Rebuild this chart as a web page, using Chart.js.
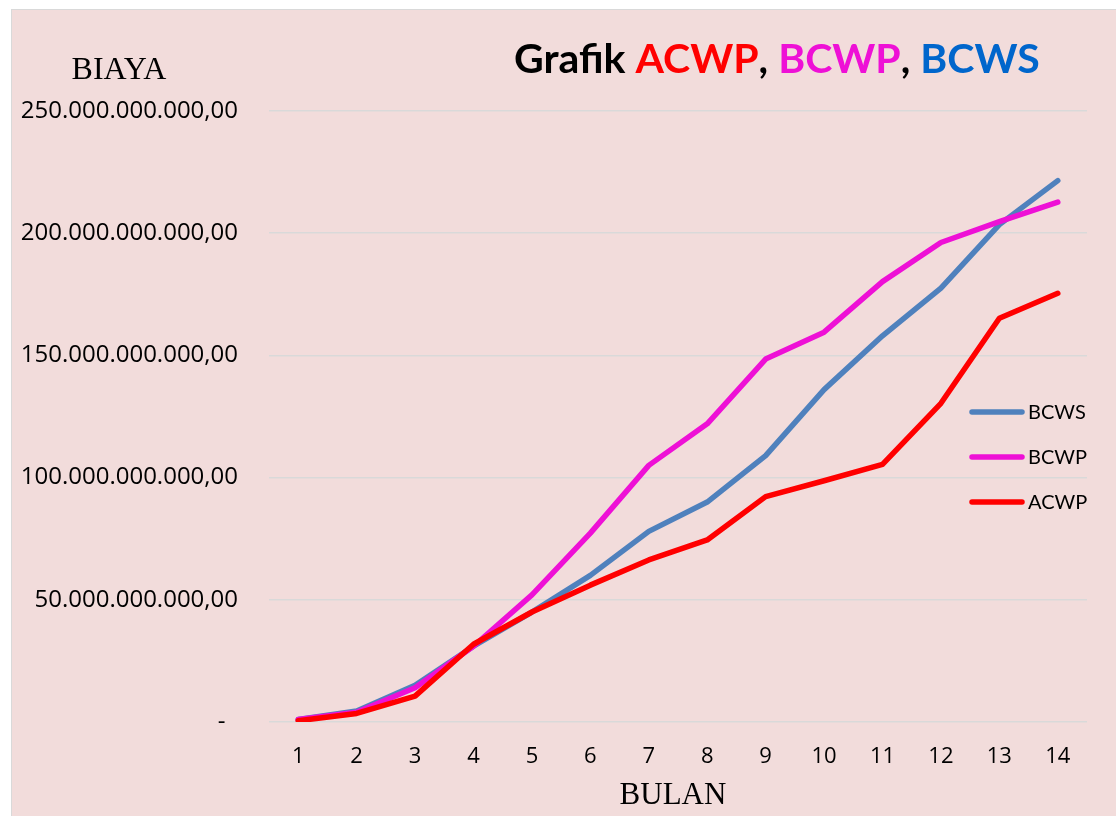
<!DOCTYPE html>
<html>
<head>
<title>Grafik ACWP, BCWP, BCWS</title>
<script src="https://cdn.jsdelivr.net/npm/chart.js"></script>
<style>
	html, body { margin: 0; padding: 0; background: #fff; overflow: hidden; }
	.frame {
		position: absolute; left: 11px; top: 9px; width: 1120px; height: 820px;
		background: #F2DCDB; border: 1px solid #D9D9D9;
	}
	.chart-container { position: absolute; left: 0; top: 0; width: 1116px; height: 816px; }
</style>
</head>
<body>
<div class="frame"></div>
<div class="chart-container"><canvas id="evmChart"></canvas></div>
<script>
// values in billions of rupiah (miliar)
const bulan = ["1", "2", "3", "4", "5", "6", "7", "8", "9", "10", "11", "12", "13", "14"];
const bcws = [1, 4.5, 15, 31, 45, 60, 78, 90, 109, 136, 158, 177.5, 203.5, 221.5];
const bcwp = [1, 4, 14, 31, 52, 77.3, 105, 122, 148.5, 159.5, 180.2, 196.2, 204.7, 212.7];
const acwp = [0.5, 3.5, 10.6, 31.8, 45, 56, 66.3, 74.5, 92.2, 98.7, 105.4, 130.4, 165.2, 175.4];

const colors = { BCWS: "#4F81BD", BCWP: "#EE10D6", ACWP: "#FF0000" };
const titleParts = [
	["Grafik ", "#000000"],
	["ACWP", "#FF0000"],
	[", ", "#000000"],
	["BCWP", "#EE10D6"],
	[", ", "#000000"],
	["BCWS", "#0066CC"],
];
const legendOrder = ["BCWS", "BCWP", "ACWP"];

function formatRupiah(miliar) {
	if (miliar === 0) return "-  ";
	const whole = String(Math.round(miliar * 1e9));
	return whole.replace(/\B(?=(\d{3})+(?!\d))/g, ".") + ",00";
}

function makeLine(label, data, order) {
	return {
		label: label,
		data: data,
		borderColor: colors[label],
		backgroundColor: colors[label],
		borderWidth: 5.5,
		borderCapStyle: "round",
		borderJoinStyle: "round",
		pointRadius: 0,
		tension: 0,
		fill: false,
		order: order,
	};
}

// title, axis names and legend drawn on top of the chart
const decorations = {
	id: "decorations",
	afterDraw(chart) {
		const ctx = chart.ctx;
		ctx.save();
		ctx.textBaseline = "alphabetic";
		ctx.font = "bold 41px Lato";
		let x = 514;
		titleParts.forEach(([text, color]) => {
			ctx.fillStyle = color;
			ctx.fillText(text, x, 73);
			x += ctx.measureText(text).width;
		});

		ctx.fillStyle = "#000";
		ctx.font = "32px 'Liberation Serif'";
		ctx.textAlign = "center";
		ctx.textBaseline = "middle";
		ctx.fillText("BIAYA", 119, 71);
		ctx.font = "31px 'Liberation Serif'";
		ctx.fillText("BULAN", 673, 796);

		ctx.textAlign = "left";
		ctx.font = "20px Lato";
		legendOrder.forEach((name, i) => {
			const y = 412 + 45 * i;
			ctx.strokeStyle = colors[name];
			ctx.lineWidth = 5.5;
			ctx.lineCap = "round";
			ctx.beginPath();
			ctx.moveTo(972, y);
			ctx.lineTo(1022, y);
			ctx.stroke();
			ctx.fillStyle = "#000";
			ctx.fillText(name, 1028, y + 1);
		});
		ctx.restore();
	},
};

const ctx = document.getElementById("evmChart").getContext("2d");
new Chart(ctx, {
	type: "line",
	data: {
		labels: bulan,
		datasets: [
			makeLine("BCWS", bcws, 2),
			makeLine("BCWP", bcwp, 1),
			makeLine("ACWP", acwp, 0),
		],
	},
	options: {
		responsive: true,
		maintainAspectRatio: false,
		animation: false,
		layout: { padding: { left: 0, top: 111, right: 29, bottom: 0 } },
		plugins: {
			legend: { display: false },
			title: { display: false },
			tooltip: { enabled: false },
		},
		scales: {
			x: {
				offset: true,
				grid: { display: false },
				border: { display: false },
				ticks: { color: "#000", font: { family: "Open Sans", size: 22 }, padding: 14, maxRotation: 0 },
				afterFit(scale) { scale.height = 94; },
			},
			y: {
				min: 0,
				max: 250,
				grid: { color: "#D9D9D9", lineWidth: 1.5, drawTicks: false },
				border: { display: false },
				ticks: {
					stepSize: 50,
					color: "#000",
					font: { family: "Open Sans", size: 24 },
					padding: 31,
					callback: (v) => formatRupiah(v),
				},
				afterFit(scale) { scale.width = 269; },
			},
		},
	},
	plugins: [decorations],
});
</script>
</body>
</html>
